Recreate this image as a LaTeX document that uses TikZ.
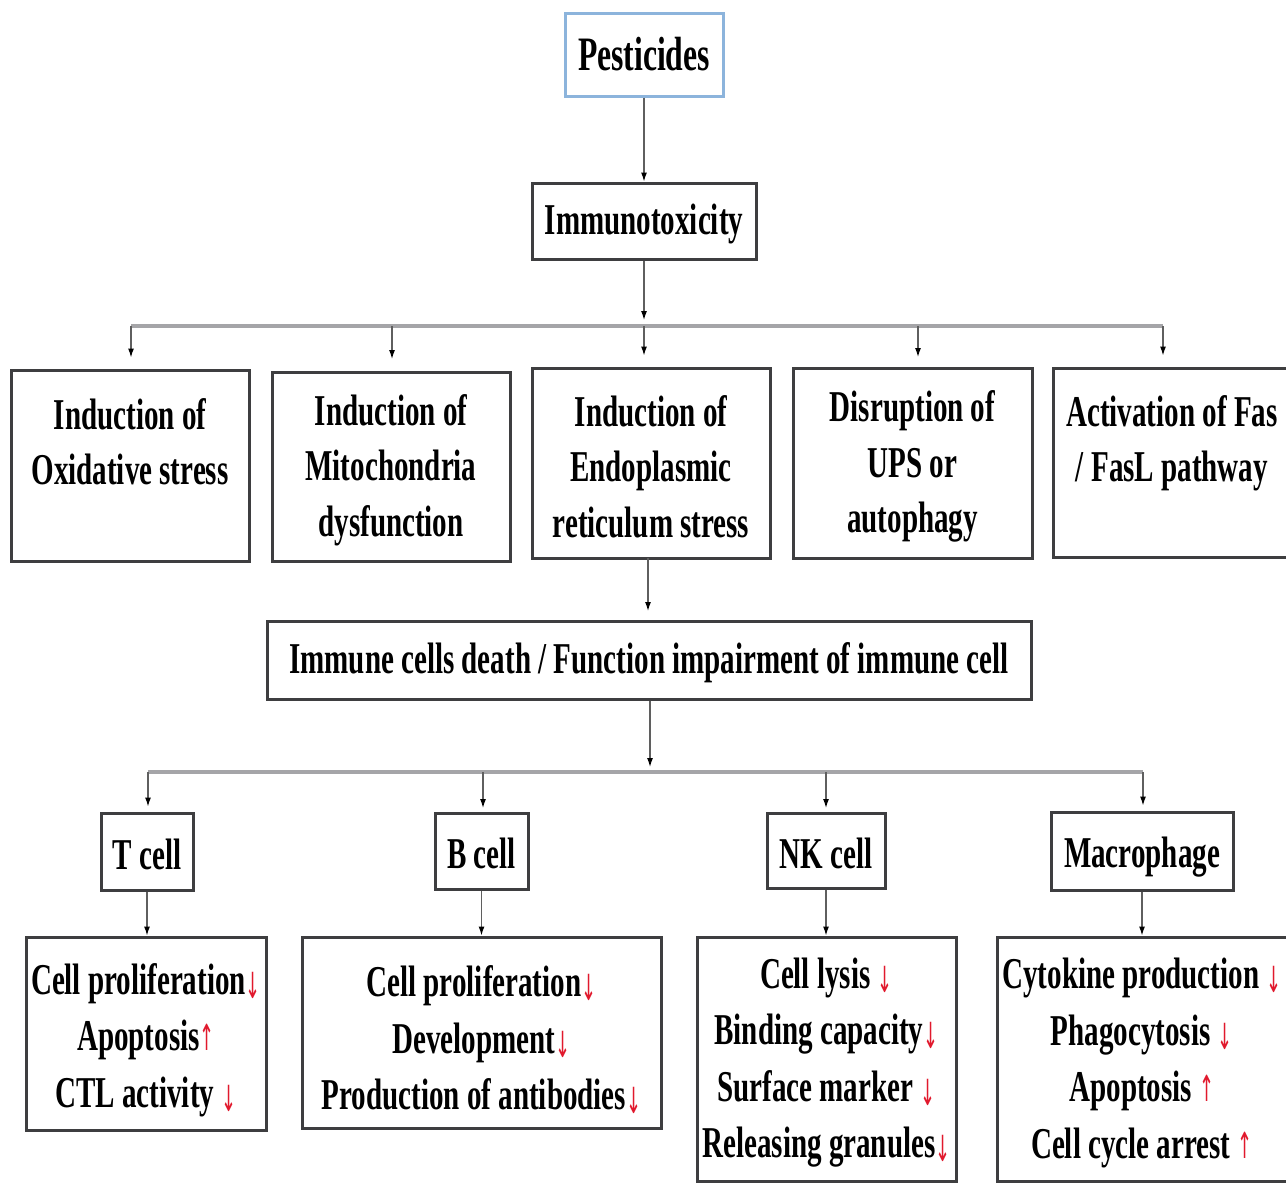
\documentclass[tikz,border=0pt]{standalone}
\usepackage{fontspec}
\usetikzlibrary{arrows.meta}
\newfontfamily\cond{Liberation Serif}[FakeStretch=0.66]
\newfontfamily\arrowfont{DejaVu Sans}[FakeStretch=0.5]
\definecolor{arrred}{RGB}{225,25,45}
\definecolor{boxgray}{RGB}{62,62,64}
\definecolor{linegray}{RGB}{95,95,95}
\definecolor{bargray}{RGB}{165,165,168}
\definecolor{pestblue}{RGB}{140,180,220}
\newcommand{\dn}{\smash{\raisebox{-4pt}{\arrowfont\mdseries\fontsize{36}{36}\selectfont\textcolor{arrred}{↓}}}}
\newcommand{\upa}{\smash{\raisebox{0pt}{\arrowfont\mdseries\fontsize{36}{36}\selectfont\textcolor{arrred}{↑}}}}
\newcommand{\tfix}{\rule{0pt}{38pt}}
\tikzset{
  box/.style={draw=boxgray, line width=3pt, fill=white, inner sep=0pt, align=center,
    font=\cond\bfseries\fontsize{44}{55.5}\selectfont},
  listbox/.style={box, font=\cond\bfseries\fontsize{44}{56.5}\selectfont},
  pestbox/.style={box, draw=pestblue, line width=3pt, font=\cond\bfseries\fontsize{48}{56}\selectfont},
  conn/.style={draw=linegray, line width=1.2pt, -{Latex[length=9pt,width=6pt,color=black]}},
  bar/.style={draw=bargray, line width=3.5pt}
}
\begin{document}
\begin{tikzpicture}[x=1pt,y=-1pt]
\useasboundingbox (0,0) rectangle (1286,1183);
\clip (0,0) rectangle (1286,1183);
\fill[white] (0,0) rectangle (1286,1183);

% top
\node[pestbox, minimum width=158pt, minimum height=83pt] (pest) at (644,54.5) {Pesticides};
\node[box, minimum width=224pt, minimum height=76pt] (imm) at (644,221) {\rule{0pt}{36pt}Immunotoxicity};

% mechanisms
\node[box, minimum width=238pt, minimum height=191pt] (ox) at (130,465.5) {\tfix Induction of\\Oxidative stress\\\mbox{}};
\node[box, minimum width=238pt, minimum height=189pt] (mito) at (391,466.5) {\tfix Induction of\\Mitochondria\\dysfunction};
\node[box, minimum width=238pt, minimum height=190pt] (er) at (651,463) {\tfix Induction of\\Endoplasmic\\reticulum stress};
\node[box, minimum width=239pt, minimum height=190pt] (ups) at (912.5,463) {\tfix Disruption of\\UPS or\\autophagy};
\node[box, minimum width=238pt, minimum height=189pt] (fas) at (1172,462.5) {\tfix Activation of Fas\\/ FasL pathway\\\mbox{}};

\node[box, minimum width=764pt, minimum height=78pt] (death) at (649,660) {\rule{0pt}{36pt}Immune cells death / Function impairment of immune cell};

% cells
\node[box, minimum width=92pt, minimum height=77pt] (tc) at (147,851.5) {\rule{0pt}{36pt}T cell};
\node[box, minimum width=93pt, minimum height=76pt] (bc) at (481.5,851) {\rule{0pt}{36pt}B cell};
\node[box, minimum width=118pt, minimum height=75pt] (nk) at (826,850.5) {\rule{0pt}{36pt}NK cell};
\node[box, minimum width=182pt, minimum height=78pt] (mac) at (1142,851) {\rule{0pt}{42pt}Macrophage};

% lists
\node[listbox, minimum width=240pt, minimum height=193pt] (tl) at (146,1033.5)
  {\rule{0pt}{44pt}Cell proliferation\dn\\Apoptosis\upa\\CTL activity\,\dn};
\node[listbox, minimum width=359pt, minimum height=191pt] (bl) at (481.5,1032.5)
  {\rule{0pt}{42pt}Cell proliferation\dn\\Development\dn\\Production of antibodies\dn};
\node[listbox, minimum width=259pt, minimum height=244pt] (nkl) at (826.5,1059)
  {\tfix Cell lysis\,\dn\\Binding capacity\dn\\Surface marker\,\dn\\Releasing granules\dn};
\node[listbox, minimum width=290pt, minimum height=244pt] (macl) at (1142,1059)
  {\tfix Cytokine production\,\dn\\Phagocytosis\,\dn\\Apoptosis\,\upa\\Cell cycle arrest\,\upa};

% junctions
\coordinate (j1) at (644,326);
\coordinate (j1l) at (131,326);
\coordinate (j1r) at (1163,326);
\coordinate (j2) at (650,772);
\coordinate (j2l) at (148,772);
\coordinate (j2r) at (1143,772);

% connectors
\draw[conn] (pest.south) -- (imm.north);
\draw[conn, shorten >=6pt] (imm.south) -- (j1);
\draw[bar] (j1l) -- (j1r);
\draw[conn, shorten >=11pt] (j1l) -- (j1l |- ox.north);
\draw[conn, shorten >=11pt] (392,326) -- (392,370);
\draw[conn, shorten >=11pt] (j1) -- (j1 |- er.north);
\draw[conn, shorten >=11pt] (918,326) -- (918,368);
\draw[conn, shorten >=11pt] (j1r) -- (j1r |- fas.north);

\draw[conn, shorten >=10pt] (648,558) -- (648,621);
\draw[conn, shorten >=5pt] (death.south -| j2) -- (j2);
\draw[bar] (j2l) -- (j2r);
\draw[conn, shorten >=5pt] (j2l) -- (j2l |- tc.north);
\draw[conn, shorten >=5pt] (483,772) -- (483,813);
\draw[conn, shorten >=5pt] (826,772) -- (826,813);
\draw[conn, shorten >=5pt] (j2r) -- (j2r |- mac.north);

\draw[conn] (tc.south) -- (tc.south |- tl.north);
\draw[conn] (bc.south) -- (bc.south |- bl.north);
\draw[conn] (nk.south) -- (nk.south |- nkl.north);
\draw[conn] (mac.south) -- (mac.south |- macl.north);
\end{tikzpicture}
\end{document}
